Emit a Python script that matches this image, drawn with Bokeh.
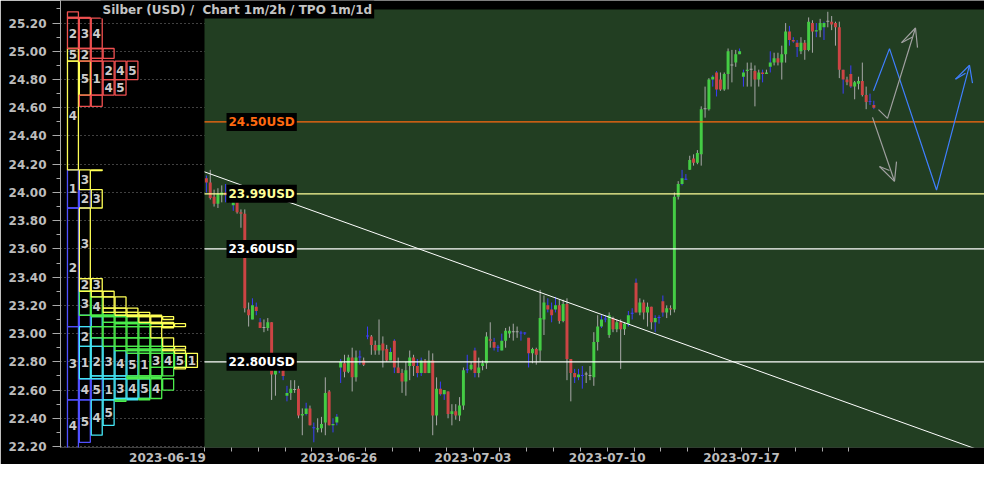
import numpy as np
from bokeh.plotting import figure
from bokeh.models import Range1d, Label, FixedTicker, SingleIntervalTicker, PrintfTickFormatter
from bokeh.core.properties import value
from bokeh.embed import file_html
from bokeh.resources import INLINE

TITLE = "Silber (USD) /\u00a0 Chart 1m/2h / TPO 1m/1d"

# ---------------- 2h candles, 7 bars per trading day (2023-06-19 .. 2023-07-21) -------------
open_ = [
    24.10, 24.07, 23.97, 23.92, 23.98, 24.00, 23.95,
    23.91, 23.94, 23.86, 23.85, 23.17, 23.10, 23.19,
    23.08, 23.04, 23.04, 23.08, 22.71, 22.74, 22.75,
    22.56, 22.58, 22.60, 22.61, 22.42, 22.43, 22.47,
    22.33, 22.32, 22.33, 22.37, 22.59, 22.35, 22.37,
    22.76, 22.79, 22.73, 22.83, 22.69, 22.83, 22.81,
    22.98, 22.98, 22.92, 22.88, 22.93, 22.89, 22.81,
    22.95, 22.76, 22.72, 22.66, 22.77, 22.83, 22.77,
    22.72, 22.81, 22.72, 22.81, 22.42, 22.61, 22.57,
    22.59, 22.43, 22.45, 22.42, 22.49, 22.74, 22.75,
    22.88, 22.72, 22.77, 22.79, 22.96, 22.94, 22.90,
    22.88, 22.95, 23.00, 23.01, 23.01, 23.00, 23.00,
    22.97, 22.86, 22.89, 22.88, 23.10, 23.20, 23.17,
    23.17, 23.20, 23.09, 23.21, 22.82, 22.72, 22.69,
    22.70, 22.71, 22.70, 22.69, 22.94, 23.05, 23.10,
    22.99, 23.11, 23.03, 23.08, 23.03, 23.07, 23.14,
    23.36, 23.15, 23.22, 23.15, 23.19, 23.08, 23.11,
    23.23, 23.15, 23.18, 23.17, 23.97, 24.06, 24.09,
    24.16, 24.24, 24.21, 24.27, 24.59, 24.59, 24.80,
    24.85, 24.80, 24.73, 24.84, 24.90, 24.92, 24.98,
    24.82, 24.86, 24.87, 24.86, 24.80, 24.85, 24.84,
    24.89, 24.92, 24.95, 24.92, 24.98, 25.14, 25.08,
    25.06, 25.00, 25.06, 25.01, 25.20, 25.14, 25.15,
    25.17, 25.21, 25.21, 25.20, 25.17, 24.87, 24.80,
    24.84, 24.75, 24.77, 24.79, 24.69, 24.64, 24.62,
]
high = [
    24.12, 24.16, 24.02, 24.03, 24.05, 24.06, 24.01,
    24.02, 23.97, 23.88, 23.88, 23.22, 23.25, 23.22,
    23.11, 23.10, 23.11, 23.08, 22.77, 22.77, 22.77,
    22.63, 22.67, 22.67, 22.63, 22.47, 22.51, 22.49,
    22.37, 22.40, 22.41, 22.69, 22.60, 22.40, 22.43,
    22.82, 22.85, 22.85, 22.90, 22.88, 22.88, 22.83,
    23.05, 22.99, 22.95, 23.10, 22.98, 22.92, 22.90,
    22.96, 22.83, 22.75, 22.80, 22.88, 22.85, 22.82,
    22.83, 22.82, 22.88, 22.86, 22.69, 22.66, 22.60,
    22.59, 22.50, 22.50, 22.55, 22.76, 22.85, 22.80,
    22.90, 22.83, 22.81, 23.01, 23.08, 22.97, 22.92,
    23.00, 23.04, 23.05, 23.07, 23.05, 23.02, 23.01,
    22.97, 22.90, 22.90, 23.31, 23.27, 23.25, 23.22,
    23.26, 23.24, 23.24, 23.25, 22.82, 22.75, 22.75,
    22.77, 22.73, 22.77, 23.01, 23.13, 23.13, 23.13,
    23.15, 23.12, 23.10, 23.10, 23.08, 23.16, 23.18,
    23.39, 23.25, 23.24, 23.22, 23.19, 23.13, 23.13,
    23.27, 23.20, 23.20, 24.00, 24.08, 24.16, 24.13,
    24.26, 24.27, 24.30, 24.61, 24.75, 24.81, 24.83,
    24.86, 24.85, 24.85, 25.02, 25.01, 25.01, 25.02,
    24.87, 24.92, 24.92, 24.90, 24.87, 24.87, 24.87,
    25.00, 24.99, 24.99, 25.04, 25.20, 25.18, 25.10,
    25.08, 25.10, 25.08, 25.24, 25.22, 25.20, 25.23,
    25.21, 25.28, 25.25, 25.21, 25.21, 24.87, 24.82,
    24.90, 24.79, 24.82, 24.92, 24.75, 24.70, 24.65,
]
low = [
    24.00, 23.95, 23.90, 23.89, 23.93, 23.93, 23.93,
    23.87, 23.85, 23.75, 23.15, 23.05, 23.10, 23.13,
    23.04, 23.01, 23.02, 22.53, 22.56, 22.72, 22.67,
    22.52, 22.53, 22.58, 22.40, 22.28, 22.42, 22.35,
    22.23, 22.30, 22.30, 22.28, 22.35, 22.30, 22.35,
    22.65, 22.69, 22.72, 22.59, 22.66, 22.78, 22.77,
    22.96, 22.85, 22.85, 22.85, 22.76, 22.80, 22.81,
    22.72, 22.72, 22.58, 22.56, 22.67, 22.70, 22.69,
    22.70, 22.72, 22.72, 22.28, 22.35, 22.56, 22.53,
    22.40, 22.35, 22.39, 22.38, 22.46, 22.72, 22.74,
    22.69, 22.69, 22.74, 22.75, 22.90, 22.88, 22.87,
    22.88, 22.90, 22.97, 22.95, 22.97, 22.95, 22.99,
    22.76, 22.79, 22.78, 22.80, 22.99, 23.15, 23.08,
    23.15, 23.07, 23.08, 22.67, 22.52, 22.65, 22.67,
    22.61, 22.65, 22.67, 22.63, 22.88, 23.04, 23.08,
    22.97, 23.01, 23.01, 22.75, 22.99, 23.05, 23.10,
    23.15, 23.13, 23.10, 23.05, 23.03, 23.01, 23.07,
    23.12, 23.11, 23.13, 23.15, 23.95, 24.05, 24.09,
    24.16, 24.19, 24.20, 24.19, 24.53, 24.58, 24.75,
    24.68, 24.72, 24.72, 24.73, 24.78, 24.89, 24.98,
    24.75, 24.75, 24.75, 24.61, 24.75, 24.78, 24.84,
    24.85, 24.90, 24.90, 24.80, 24.92, 25.04, 25.06,
    24.96, 24.98, 24.94, 25.00, 24.99, 25.10, 25.10,
    25.08, 25.17, 25.15, 25.04, 24.81, 24.70, 24.76,
    24.74, 24.66, 24.73, 24.68, 24.59, 24.62, 24.59,
]
close = [
    24.07, 23.96, 23.92, 23.99, 24.00, 23.98, 23.99,
    23.94, 23.86, 23.85, 23.18, 23.13, 23.20, 23.16,
    23.04, 23.04, 23.08, 22.71, 22.75, 22.74, 22.70,
    22.58, 22.61, 22.60, 22.42, 22.43, 22.47, 22.35,
    22.33, 22.33, 22.36, 22.58, 22.35, 22.36, 22.41,
    22.80, 22.73, 22.83, 22.69, 22.83, 22.83, 22.78,
    22.98, 22.92, 22.88, 22.92, 22.88, 22.81, 22.87,
    22.76, 22.72, 22.66, 22.74, 22.83, 22.77, 22.72,
    22.81, 22.72, 22.81, 22.42, 22.61, 22.57, 22.60,
    22.43, 22.45, 22.42, 22.49, 22.74, 22.74, 22.78,
    22.72, 22.76, 22.79, 22.98, 22.95, 22.90, 22.90,
    22.95, 23.02, 23.02, 23.01, 23.01, 23.00, 23.00,
    22.86, 22.89, 22.85, 23.11, 23.22, 23.17, 23.13,
    23.20, 23.09, 23.21, 22.82, 22.72, 22.69, 22.71,
    22.70, 22.71, 22.70, 22.94, 23.05, 23.10, 23.10,
    23.13, 23.03, 23.08, 23.03, 23.07, 23.13, 23.14,
    23.15, 23.22, 23.15, 23.19, 23.08, 23.11, 23.11,
    23.15, 23.18, 23.17, 23.97, 24.06, 24.10, 24.09,
    24.23, 24.21, 24.28, 24.59, 24.59, 24.80, 24.82,
    24.73, 24.73, 24.84, 25.00, 24.90, 24.98, 25.00,
    24.85, 24.87, 24.87, 24.80, 24.85, 24.84, 24.85,
    24.92, 24.95, 24.92, 24.98, 25.14, 25.08, 25.07,
    25.03, 25.06, 25.01, 25.21, 25.14, 25.15, 25.20,
    25.20, 25.21, 25.19, 25.17, 24.87, 24.80, 24.78,
    24.75, 24.78, 24.79, 24.69, 24.64, 24.64, 24.60,
]
# 1 = bar outside the main session (wick drawn blue)
offhours = [
    1, 0, 0, 0, 0, 1, 0,   1, 0, 0, 0, 0, 1, 1,   1, 0, 0, 0, 0, 1, 1,
    1, 0, 0, 0, 0, 1, 0,   1, 0, 0, 0, 0, 1, 1,   1, 0, 0, 0, 0, 1, 0,
    1, 0, 0, 0, 0, 0, 1,   1, 0, 0, 0, 0, 0, 1,   1, 0, 0, 0, 0, 1, 1,
    0, 0, 0, 0, 0, 1, 0,   1, 0, 0, 0, 0, 1, 1,   1, 0, 0, 0, 0, 1, 1,
    1, 0, 0, 0, 0, 1, 1,   1, 0, 0, 0, 0, 1, 1,   1, 0, 0, 0, 0, 1, 1,
    0, 0, 0, 0, 0, 1, 1,   1, 0, 0, 0, 0, 1, 1,   1, 0, 0, 0, 0, 1, 1,
    0, 0, 0, 0, 0, 0, 1,   1, 0, 0, 0, 0, 0, 1,   1, 0, 0, 0, 0, 1, 0,
    1, 0, 0, 0, 0, 1, 1,   1, 0, 0, 0, 0, 1, 0,   1, 0, 0, 0, 0, 1, 0,
    1, 0, 0, 0, 0, 1, 1,
]

# ---------------- TPO profile: one period per trading day (range of the day) -----------------
tpo_low = [23.89, 23.05, 22.53, 22.17, 22.23,
           22.53, 22.70, 22.54, 22.28, 22.35,
           22.69, 22.89, 22.76, 22.52, 22.60,
           22.75, 23.04, 23.10, 24.155, 24.69,
           24.61, 24.80, 24.95, 24.69, 24.61]
tpo_high = [24.16, 24.02, 23.13, 22.68, 22.68,
            22.91, 23.12, 22.97, 22.88, 22.86,
            23.08, 23.07, 23.30, 23.26, 23.15,
            23.18, 23.39, 24.16, 24.93, 25.02,
            24.93, 25.235, 25.24, 25.28, 24.93]

# ---------------- axis labels, price levels, drawings ---------------------------------------
date_labels = ["2023-06-19", "2023-06-26", "2023-07-03", "2023-07-10", "2023-07-17"]
n_days = 25
levels = [24.50, 23.99, 23.60, 22.80]
trend_x = [0.0, 29.65]
trend_y = [24.146, 22.12]
blue_path_x = [24.916, 25.512, 27.263, 28.492]
blue_path_y = [24.720, 25.019, 24.017, 24.901]
blue_head_x = [[27.970, 28.492, 28.603], [27.970, 28.343]]
blue_head_y = [[24.803, 24.901, 24.775], [24.803, 24.845]]
grey_paths_x = [[25.102, 25.438, 26.480], [24.879, 25.698],
                [25.959, 26.480, 26.555], [25.959, 26.369],
                [25.140, 25.698, 25.773], [25.140, 25.512]]
grey_paths_y = [[24.587, 24.525, 25.165], [24.532, 24.079],
                [25.061, 25.165, 25.026], [25.061, 25.102],
                [24.184, 24.079, 24.218], [24.184, 24.156]]

# ---------------- styles ----------------------------------------------------------------
FONT = "DejaVu Sans"
BG = "#000000"
PANEL = "#223e22"
UP, DOWN = "#44cc44", "#cc4444"
WICK, WICK_OFF = "#a8a8a8", "#3c3cff"
WEEK_COLORS = ["#5050ff", "#44e6f5", "#4cee4c", "#ffff55", "#f05050"]
LEVEL_COLORS = ["#ff6a10", "#ffff99", "#ffffff", "#ffffff"]
TXT = "#bcbcbc"
BARS_PER_DAY = 7
PANEL_END = 29.27
PANEL_TOP = 25.297
Y0, Y1 = 22.193, 25.360

p = figure(width=984, height=464,
           x_range=Range1d(-5.363, 29.05), y_range=Range1d(Y0, Y1),
           output_backend="svg", toolbar_location=None,
           min_border_left=60, min_border_right=0, min_border_top=0, min_border_bottom=17,
           background_fill_color=BG, border_fill_color=BG, outline_line_color=None)
p.extra_x_ranges = {"tpo": Range1d(-0.546, 77.10)}

# axes
xa = p.xaxis[0]
major = [-1.38] + [5 * k for k in range(1, len(date_labels))]
xa.ticker = FixedTicker(ticks=major, minor_ticks=list(range(n_days)))
xa.major_label_overrides = {t: lab for t, lab in zip(major, date_labels)}
xa.axis_line_color = None
xa.major_tick_line_color = None
xa.major_tick_out = 0
xa.major_tick_in = 0
xa.minor_tick_out = 4
xa.minor_tick_in = 0
xa.minor_tick_line_color = "#aaaaaa"
xa.major_label_standoff = 1
xa.major_label_text_font = FONT
xa.major_label_text_font_style = "bold"
xa.major_label_text_font_size = "12px"
xa.major_label_text_color = TXT

ya = p.yaxis[0]
yt = SingleIntervalTicker(interval=0.2, num_minor_ticks=2)
ya.ticker = yt
ya.formatter = PrintfTickFormatter(format="%.2f")
ya.axis_line_color = "#aaaaaa"
ya.major_tick_line_color = "#aaaaaa"
ya.minor_tick_line_color = "#aaaaaa"
ya.major_tick_out = 8
ya.major_tick_in = 0
ya.minor_tick_out = 4
ya.minor_tick_in = 0
ya.major_label_standoff = 6
ya.major_label_text_font = FONT
ya.major_label_text_font_style = "bold"
ya.major_label_text_font_size = "12px"
ya.major_label_text_color = TXT

p.xgrid.visible = False
p.ygrid.ticker = yt
p.ygrid.grid_line_color = "#808080"
p.ygrid.grid_line_dash = "1 3"

# chart panel
p.quad(left=[0], right=[PANEL_END], bottom=[21.0], top=[PANEL_TOP], fill_color=PANEL, line_color=None)

# candles
o = np.array(open_)
c = np.array(close)
xs = (np.arange(len(o)) + 0.5) / BARS_PER_DAY
wick_col = np.where(np.array(offhours) == 1, WICK_OFF, WICK)
body_col = np.where(c > o, UP, np.where(c < o, DOWN, wick_col))
bot = np.minimum(o, c)
top = np.maximum(np.maximum(o, c), bot + 0.007)
p.segment(x0=xs, y0=low, x1=xs, y1=high, line_color=list(wick_col), line_width=1)
p.vbar(x=xs, width=0.11, bottom=bot, top=top, fill_color=list(body_col), line_color=None)

# price levels + trend line
p.segment(x0=[0] * len(levels), x1=[PANEL_END] * len(levels), y0=levels, y1=levels,
          line_color=LEVEL_COLORS, line_width=1.4)
p.line(trend_x, trend_y, line_color="white", line_width=1)

# drawings
p.line(blue_path_x, blue_path_y, line_color="#3f7fff", line_width=1.2)
p.multi_line(blue_head_x, blue_head_y, line_color="#3f7fff", line_width=1.2)
p.multi_line(grey_paths_x, grey_paths_y, line_color="#a0a0a0", line_width=1.2)

for v, col in zip(levels, LEVEL_COLORS):
    p.add_layout(Label(x=0.82, y=v, text=f"{v:.2f}USD", text_color=col, text_font=FONT,
                       text_font_size="12px", text_font_style="bold", text_baseline="middle",
                       background_fill_color="black", padding=2))

# TPO profile
step = 0.005
lv = np.arange(22.10, 25.35, step)
mids = lv + step / 2
lo = np.array(tpo_low)
hi = np.array(tpo_high)
cover = (mids[:, None] >= lo[None, :]) & (mids[:, None] <= hi[None, :])
rank = np.cumsum(cover, axis=1) - 1
bl, br, bb, bt, bcol, tx, ty, tt = [], [], [], [], [], [], [], []
for d in range(len(lo)):
    col = np.where(cover[:, d], rank[:, d], -1)
    i = 0
    while i < len(lv):
        if col[i] < 0:
            i += 1
            continue
        j = i
        while j + 1 < len(lv) and col[j + 1] == col[i]:
            j += 1
        b0, b1 = lv[i], lv[j] + step
        k = int(col[i])
        bl.append(k + 0.04)
        br.append(k + 0.96)
        bb.append(b0)
        bt.append(b1)
        bcol.append(WEEK_COLORS[d // 5])
        if b1 - b0 >= 0.085:
            tx.append(k + 0.5)
            ty.append((b0 + b1) / 2)
            tt.append(str(d % 5 + 1))
        i = j + 1

p.quad(left=bl, right=br, bottom=bb, top=bt, fill_color=None, line_color=bcol,
       line_width=1.3, x_range_name="tpo")
p.text(x=tx, y=ty, text=tt, x_range_name="tpo", text_font=value(FONT),
       text_font_size=value("12px"), text_font_style="bold", text_color="#cccccc",
       text_align="center", text_baseline="middle")

# title in the black band at the top of the chart
p.add_layout(Label(x=-3.87, y=Y1, text=TITLE, text_color="#c4c4c4",
                   text_font=FONT, text_font_size="12px", text_font_style="bold",
                   text_baseline="top", background_fill_color="black", padding=2))

open("out.html", "w").write(file_html(p, INLINE))
